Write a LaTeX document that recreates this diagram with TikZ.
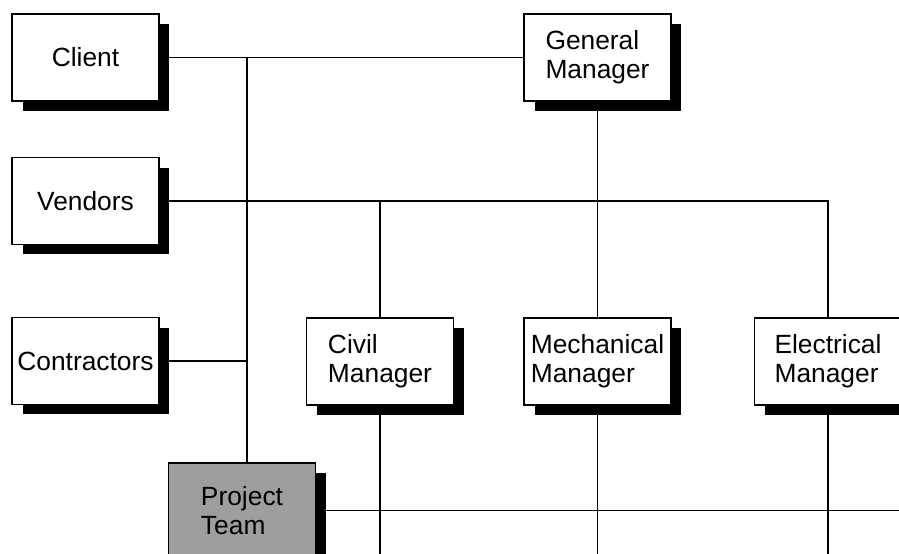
\documentclass[tikz,border=0pt]{standalone}
\usepackage{fontspec}
\setmainfont{Liberation Sans}
\usepackage{tikz}
\usetikzlibrary{shadows}
\definecolor{teamgray}{RGB}{158,158,158}
\tikzstyle{box}=[draw, fill=white, line width=1.1pt, minimum width=2.94cm, minimum height=1.74cm, inner sep=2pt, align=left, font=\fontsize{15}{16.5}\selectfont, drop shadow={shadow xshift=0.21cm, shadow yshift=-0.2cm, fill=black, opacity=1}]
\tikzstyle{link}=[line width=1.1pt]

\begin{document}
\begin{tikzpicture}[x=0.02cm,y=-0.02cm]
            \clip (0,0) rectangle (899,554);
            \node [box] (client) at (85.5,57.5) {Client};
            \node [box] (vendors) at (85.5,201) {Vendors};
            \node [box] (contr) at (85.5,361) {Contractors};
            \node [box] (gm) at (597.5,57.5) {General\\Manager};
            \node [box] (civil) at (380,361.5) {Civil\\Manager};
            \node [box] (mech) at (597.5,361.5) {Mechanical\\Manager};
            \node [box] (elec) at (828,361.5) {Electrical\\Manager};
            \node [box, fill=teamgray, minimum height=1.9cm] (team) at (242,510.5) {Project\\Team};
            \coordinate (trunk) at (247,57.5);
            \coordinate (edge) at (899,554);
            \draw [link] (client) -- (gm);
            \draw [link] (trunk) -- (trunk |- team.north);
            \draw [link] (contr) -- (contr -| trunk);
            \draw [link] (vendors.east) -| (elec.north);
            \draw [link] (civil.north) -- (civil.north |- vendors.east);
            \draw [link] (gm.south) -- (mech.north);
            \draw [link] (team.east) -- (team.east -| edge);
            \draw [link] (civil.south) -- (civil.south |- edge);
            \draw [link] (mech.south) -- (mech.south |- edge);
            \draw [link] (elec.south) -- (elec.south |- edge);
\end{tikzpicture}
\end{document}
